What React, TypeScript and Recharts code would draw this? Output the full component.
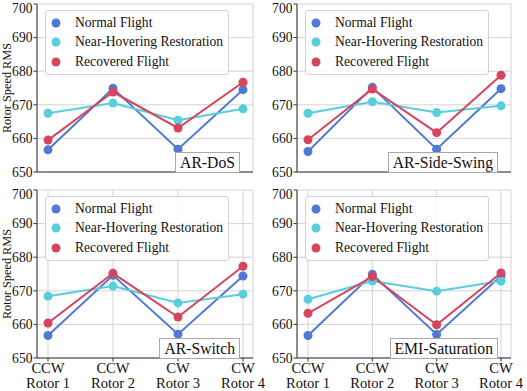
import { LineChart, Line, XAxis, YAxis, CartesianGrid, Legend } from 'recharts';

const rotors = ['Rotor 1', 'Rotor 2', 'Rotor 3', 'Rotor 4'];
const directions = ['CCW', 'CCW', 'CW', 'CW'];
const yTicks = [650, 660, 670, 680, 690, 700];
const seriesNames = ['Normal Flight', 'Near-Hovering Restoration', 'Recovered Flight'];
const seriesColors = ['#5179d3', '#58cedd', '#d6455e'];

const dosNormal = [656.6, 674.9, 656.8, 674.5];
const dosHover = [667.5, 670.5, 665.4, 668.8];
const dosRecovered = [659.5, 673.8, 663.1, 676.7];

const swingNormal = [656.1, 675.2, 656.8, 674.8];
const swingHover = [667.5, 670.9, 667.7, 669.7];
const swingRecovered = [659.6, 674.7, 661.7, 678.8];

const switchNormal = [656.7, 674.6, 657.1, 674.4];
const switchHover = [668.4, 671.4, 666.4, 669.0];
const switchRecovered = [660.4, 675.2, 662.2, 677.3];

const emiNormal = [656.7, 674.9, 657.0, 674.4];
const emiHover = [667.5, 672.9, 669.9, 672.9];
const emiRecovered = [663.3, 674.2, 659.9, 675.3];

const panelTitles = ['AR-DoS', 'AR-Side-Swing', 'AR-Switch', 'EMI-Saturation'];
const panelValues = [
  [dosNormal, dosHover, dosRecovered],
  [swingNormal, swingHover, swingRecovered],
  [switchNormal, switchHover, switchRecovered],
  [emiNormal, emiHover, emiRecovered],
];

// where each subplot sits on the page (right margin leaves room for the last tick label)
const layouts = [
  { left: 0, top: 0, width: 272, height: 180, right: 19, xh: 8, labels: false, ylabel: true },
  { left: 260, top: 0, width: 267, height: 180, right: 16, xh: 8, labels: false, ylabel: false },
  { left: 0, top: 186, width: 272, height: 205, right: 19, xh: 33, labels: true, ylabel: true },
  { left: 260, top: 186, width: 267, height: 205, right: 16, xh: 33, labels: true, ylabel: false },
];

const font = '"Liberation Serif", "Times New Roman", serif';
const spine = '#333';

function RotorTick({ x, y, payload, index }: any) {
  return (
    <text x={x} y={y} textAnchor="middle" fill="#111" fontSize={14.6} fontFamily={font}>
      <tspan x={x} dy={9}>{directions[index]}</tspan>
      <tspan x={x} dy={15.5}>{payload.value}</tspan>
    </text>
  );
}

function LegendBox({ payload }: any) {
  const items = [...(payload || [])].sort(
    (a: any, b: any) => seriesNames.indexOf(a.value) - seriesNames.indexOf(b.value)
  );
  return (
    <div
      style={{
        width: 182,
        border: '1px solid #d2d2d2',
        borderRadius: 3,
        background: 'rgba(255,255,255,0.85)',
        padding: '2px 0 2px 0',
        fontFamily: font,
        fontSize: 13.6,
        color: '#111',
      }}
    >
      {items.map((p: any) => (
        <div key={p.value} style={{ display: 'flex', alignItems: 'center', height: 19.5 }}>
          <svg width={10} height={10} style={{ marginLeft: 5, marginRight: 14 }}>
            <circle cx={5} cy={5} r={4.5} fill={p.color} />
          </svg>
          <span>{p.value}</span>
        </div>
      ))}
    </div>
  );
}

function Panel({ idx }: { idx: number }) {
  const lay = layouts[idx];
  const values = panelValues[idx];
  const data = rotors.map((r, i) => {
    const row: any = { rotor: r };
    seriesNames.forEach((n, s) => {
      row[n] = values[s][i];
    });
    return row;
  });
  const margin = { top: 4, right: lay.right, bottom: 0, left: 0 };

  return (
    <div style={{ position: 'absolute', left: lay.left, top: lay.top, width: lay.width, height: lay.height }}>
      <LineChart width={lay.width} height={lay.height} data={data} margin={margin}>
        <CartesianGrid stroke="#d3d3d3" strokeWidth={1} />
        <XAxis
          dataKey="rotor"
          padding={{ left: 11, right: 10 }}
          height={lay.xh}
          tick={lay.labels ? <RotorTick /> : false}
          tickSize={3.5}
          tickMargin={2}
          axisLine={{ stroke: spine }}
          tickLine={{ stroke: spine }}
          interval={0}
        />
        <YAxis
          domain={[650, 700]}
          ticks={yTicks}
          width={37}
          tickSize={3.5}
          tickMargin={1}
          axisLine={{ stroke: spine }}
          tickLine={{ stroke: spine }}
          tick={{ fontSize: 13.6, fill: '#111', fontFamily: font }}
          allowDataOverflow
          label={
            lay.ylabel
              ? {
                  value: 'Rotor Speed RMS',
                  angle: -90,
                  position: 'insideLeft',
                  offset: 7,
                  style: { textAnchor: 'middle', fontSize: 12.3, fill: '#111', fontFamily: font },
                }
              : undefined
          }
        />
        <XAxis xAxisId="top" orientation="top" height={0} tick={false} tickLine={false} axisLine={{ stroke: spine }} />
        <YAxis yAxisId="right" orientation="right" width={0} tick={false} tickLine={false} axisLine={{ stroke: spine }} />
        <Legend
          layout="vertical"
          align="center"
          verticalAlign="middle"
          content={<LegendBox />}
          wrapperStyle={{ left: 45, top: 10, width: 184, height: 'auto' }}
        />
        {seriesNames.map((n, s) => (
          <Line
            key={n}
            dataKey={n}
            name={n}
            stroke={seriesColors[s]}
            strokeWidth={2}
            dot={{ r: 4.5, fill: seriesColors[s], stroke: seriesColors[s], strokeWidth: 0 }}
            activeDot={false}
            isAnimationActive={false}
          />
        ))}
      </LineChart>
      <div
        style={{
          position: 'absolute',
          right: margin.right + 13,
          bottom: lay.xh - 1,
          height: 19,
          lineHeight: '19px',
          padding: '0 4px',
          border: '1px solid #a8a8a8',
          background: '#fff',
          fontFamily: font,
          fontSize: 15.7,
          color: '#111',
        }}
      >
        {panelTitles[idx]}
      </div>
    </div>
  );
}

export default function App() {
  return (
    <div style={{ position: 'absolute', left: 0, top: 0, width: 527, height: 391, background: '#fff', fontFamily: font }}>
      {layouts.map((_, i) => (
        <Panel key={i} idx={i} />
      ))}
    </div>
  );
}
